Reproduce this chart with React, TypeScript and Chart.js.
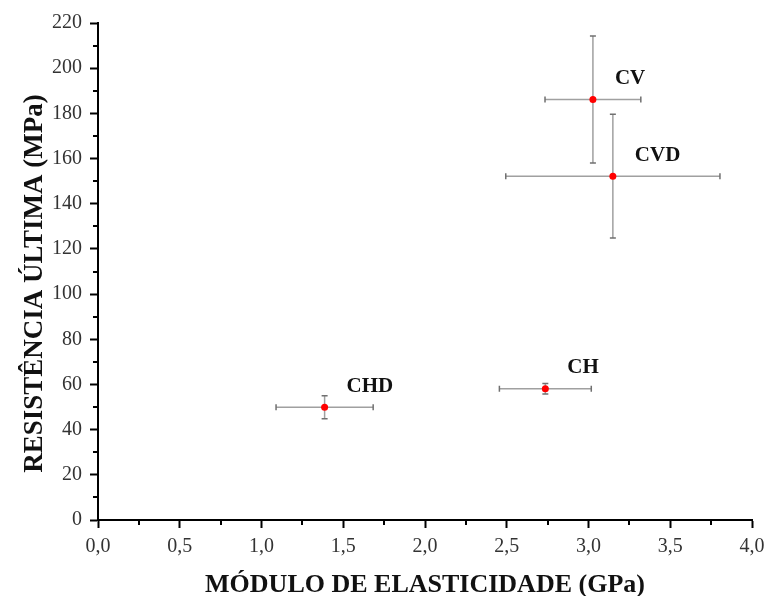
import { useEffect, useRef } from 'react';
import { Chart, registerables } from 'chart.js';

Chart.register(...registerables);

// ---- data ----
const samples = ['CV', 'CVD', 'CHD', 'CH'];
const modulus = [3.027, 3.149, 1.386, 2.736];
const modulusErr = [0.293, 0.655, 0.297, 0.281];
const strength = [186.1, 152.2, 49.9, 58.1];
const strengthErr = [28.1, 27.4, 5.1, 2.3];

const xMin = 0;
const xMax = 4;
const xMajorStep = 0.5;
const xMinorStep = 0.25;
const yMin = 0;
const yMax = 220;
const yMajorStep = 20;
const yMinorStep = 10;

const xTitle = 'MÓDULO DE ELASTICIDADE (GPa)';
const yTitle = 'RESISTÊNCIA ÚLTIMA (MPa)';

const FONT = "'Liberation Serif', 'Times New Roman', serif";

const isMultiple = (v: number, step: number) => {
  const r = v / step;
  return Math.abs(r - Math.round(r)) < 1e-6;
};

const errorBarPlugin = {
  id: 'errorBars',
  beforeDatasetsDraw(chart: any) {
    const { ctx, scales } = chart;
    const xs = scales.x;
    const ys = scales.y;
    const cap = 3;
    ctx.save();
    for (let i = 0; i < modulus.length; i++) {
      const cx = xs.getPixelForValue(modulus[i]);
      const cy = ys.getPixelForValue(strength[i]);
      const x1 = xs.getPixelForValue(modulus[i] - modulusErr[i]);
      const x2 = xs.getPixelForValue(modulus[i] + modulusErr[i]);
      const y1 = ys.getPixelForValue(strength[i] + strengthErr[i]);
      const y2 = ys.getPixelForValue(strength[i] - strengthErr[i]);
      ctx.strokeStyle = '#a0a0a0';
      ctx.lineWidth = 1.5;
      ctx.beginPath();
      ctx.moveTo(x1, cy);
      ctx.lineTo(x2, cy);
      ctx.moveTo(cx, y1);
      ctx.lineTo(cx, y2);
      ctx.stroke();
      ctx.strokeStyle = '#707070';
      ctx.beginPath();
      ctx.moveTo(x1, cy - cap);
      ctx.lineTo(x1, cy + cap);
      ctx.moveTo(x2, cy - cap);
      ctx.lineTo(x2, cy + cap);
      ctx.moveTo(cx - cap, y1);
      ctx.lineTo(cx + cap, y1);
      ctx.moveTo(cx - cap, y2);
      ctx.lineTo(cx + cap, y2);
      ctx.stroke();
    }
    ctx.restore();
  },
  afterDatasetsDraw(chart: any) {
    const { ctx, scales } = chart;
    ctx.save();
    ctx.font = `bold 21px ${FONT}`;
    ctx.fillStyle = '#111';
    ctx.textAlign = 'left';
    ctx.textBaseline = 'middle';
    for (let i = 0; i < samples.length; i++) {
      const px = scales.x.getPixelForValue(modulus[i]);
      const py = scales.y.getPixelForValue(strength[i]);
      ctx.fillText(samples[i], px + 22, py - 21);
    }
    ctx.restore();
  },
  afterDraw(chart: any) {
    const { ctx, scales, chartArea } = chart;
    ctx.save();
    ctx.strokeStyle = '#000';
    ctx.lineWidth = 2;
    ctx.beginPath();
    for (const t of scales.x.ticks) {
      if (isMultiple(t.value, xMajorStep)) continue;
      const px = Math.round(scales.x.getPixelForValue(t.value));
      ctx.moveTo(px, chartArea.bottom);
      ctx.lineTo(px, chartArea.bottom + 5);
    }
    for (const t of scales.y.ticks) {
      if (isMultiple(t.value, yMajorStep)) continue;
      const py = Math.round(scales.y.getPixelForValue(t.value));
      ctx.moveTo(chartArea.left, py);
      ctx.lineTo(chartArea.left - 5, py);
    }
    ctx.stroke();

    // y-axis title (slightly below the axis centre, as in the reference)
    ctx.font = `bold 27px ${FONT}`;
    ctx.fillStyle = '#111';
    ctx.textAlign = 'center';
    ctx.textBaseline = 'middle';
    ctx.translate(35, (chartArea.top + chartArea.bottom) / 2 + 12);
    ctx.rotate(-Math.PI / 2);
    ctx.fillText(yTitle, 0, 0);
    ctx.restore();
  },
};

export default function App() {
  const ref = useRef<HTMLCanvasElement | null>(null);

  useEffect(() => {
    if (!ref.current) return;
    const chart = new Chart(ref.current, {
      type: 'scatter',
      data: {
        datasets: [
          {
            label: 'amostras',
            data: modulus.map((x, i) => ({ x, y: strength[i] })),
            backgroundColor: '#ff0000',
            borderWidth: 0,
            pointRadius: 3.5,
            pointHoverRadius: 3.5,
          },
        ],
      },
      options: {
        responsive: false,
        animation: false,
        layout: { padding: { left: 0, top: 23, right: 14, bottom: 0 } },
        plugins: {
          legend: { display: false },
          tooltip: { enabled: false },
        },
        scales: {
          x: {
            type: 'linear',
            min: xMin,
            max: xMax,
            afterFit: (s: any) => {
              s.height = 76;
              s.paddingLeft = 0;
              s.paddingRight = 0;
            },
            ticks: {
              stepSize: xMinorStep,
              autoSkip: false,
              maxRotation: 0,
              padding: 7,
              color: '#333',
              font: { family: FONT, size: 20 },
              callback: (v: any) =>
                isMultiple(Number(v), xMajorStep) ? Number(v).toFixed(1).replace('.', ',') : '',
            },
            grid: {
              drawOnChartArea: false,
              drawTicks: true,
              tickLength: 8,
              tickWidth: 2,
              tickColor: (c: any) =>
                c.tick && isMultiple(c.tick.value, xMajorStep) ? '#000' : 'rgba(0,0,0,0)',
            },
            border: { display: true, color: '#000', width: 2 },
            title: {
              display: true,
              text: xTitle,
              color: '#111',
              font: { family: FONT, size: 26, weight: 'bold', lineHeight: 0.8 },
              padding: { top: 0, bottom: 0 },
            },
          },
          y: {
            type: 'linear',
            min: yMin,
            max: yMax,
            afterFit: (s: any) => {
              s.width = 98;
              s.paddingTop = 0;
              s.paddingBottom = 0;
            },
            ticks: {
              stepSize: yMinorStep,
              autoSkip: false,
              padding: 8,
              color: '#333',
              font: { family: FONT, size: 20 },
              callback: (v: any) => (isMultiple(Number(v), yMajorStep) ? String(v) : ''),
            },
            grid: {
              drawOnChartArea: false,
              drawTicks: true,
              tickLength: 8,
              tickWidth: 2,
              tickColor: (c: any) =>
                c.tick && isMultiple(c.tick.value, yMajorStep) ? '#000' : 'rgba(0,0,0,0)',
            },
            border: { display: true, color: '#000', width: 2 },
            title: { display: false, text: yTitle },
          },
        },
      },
      plugins: [errorBarPlugin],
    });
    return () => chart.destroy();
  }, []);

  return (
    <div style={{ position: 'absolute', left: 0, top: 0, width: 766, height: 596, background: '#fff' }}>
      <canvas ref={ref} width={766} height={596} style={{ display: 'block' }} />
    </div>
  );
}
